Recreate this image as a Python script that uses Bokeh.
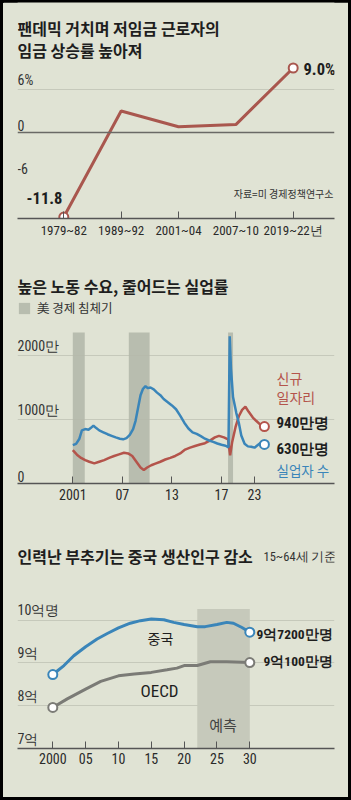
from bokeh.plotting import figure
from bokeh.layouts import column
from bokeh.models import Label, FixedTicker, Span, Legend, LegendItem
from bokeh.core.properties import value
from bokeh.embed import file_html
from bokeh.resources import INLINE

# ---------------- data ----------------
# Panel 1: wage growth of low-wage workers
wage_periods = ["1979~82", "1989~92", "2001~04", "2007~10", "2019~22년"]
wage_growth = [-11.8, 3.0, 0.8, 1.1, 9.0]
wage_y_ticks = [6, 0, -6]
wage_y_labels = ["6%", "0", "-6"]

# Panel 2: job openings vs unemployed (unit: 만)
job_years = [2001.0, 2001.5, 2002.0, 2002.5, 2003.0, 2003.6, 2004.2, 2004.8, 2005.4, 2006.0,
             2006.6, 2007.2, 2007.7, 2008.2, 2008.7, 2009.2, 2009.6, 2010.0, 2010.5, 2011.0,
             2011.6, 2012.2, 2012.8, 2013.4, 2014.0, 2014.6, 2015.2, 2015.8, 2016.4, 2017.0,
             2017.6, 2018.2, 2018.7, 2019.3, 2019.8, 2020.05, 2020.3, 2020.7, 2021.1, 2021.5,
             2021.9, 2022.3, 2022.8, 2023.2, 2023.7, 2024.2]
job_openings = [520, 450, 400, 365, 340, 315, 340, 365, 400, 430,
                455, 480, 470, 430, 340, 250, 210, 250, 285, 310,
                340, 375, 400, 430, 470, 530, 560, 585, 610, 630,
                670, 720, 745, 720, 690, 440, 650, 880, 1050, 1150,
                1200, 1120, 1030, 980, 920, 890]
unemp_years = [2001.0, 2001.4, 2001.8, 2002.1, 2002.5, 2002.9, 2003.2, 2003.5, 2003.8, 2004.2,
               2004.7, 2005.2, 2005.7, 2006.2, 2006.7, 2007.1, 2007.5, 2007.9, 2008.3, 2008.6,
               2008.9, 2009.2, 2009.5, 2009.8, 2010.1, 2010.4, 2010.8, 2011.2, 2011.6, 2012.0,
               2012.5, 2013.0, 2013.5, 2014.0, 2014.5, 2015.0, 2015.5, 2016.0, 2016.5, 2017.0,
               2017.5, 2018.0, 2018.5, 2019.0, 2019.5, 2019.85, 2020.0, 2020.15, 2020.4, 2020.8,
               2021.1, 2021.4, 2021.8, 2022.2, 2022.6, 2023.0, 2023.4, 2023.8, 2024.2]
unemp_counts = [600, 620, 700, 830, 850, 840, 870, 905, 870, 830,
                800, 770, 745, 720, 700, 690, 710, 760, 850, 980,
                1180, 1380, 1480, 1520, 1490, 1500, 1470, 1420, 1380, 1320,
                1270, 1220, 1160, 1060, 950, 860, 800, 775, 740, 700,
                672, 650, 625, 605, 590, 565, 2300, 1800, 1350, 1100,
                950, 750, 620, 580, 575, 560, 600, 640, 610]
recession_start = [2001.0, 2007.78, 2019.8]
recession_end = [2002.45, 2010.3, 2020.4]
recession_top = [2360, 2360, 2360]
labor_ticks = [2001, 2007, 2013, 2019, 2023]
labor_tick_labels = ["2001", "07", "13", "17", "23"]
labor_y_ticks = [2000, 1000, 0]
labor_y_labels = ["2000만", "1000만", "0"]

# Panel 3: working-age population (unit: 억)
china_years = [2000.0, 2001.7, 2003.2, 2005.0, 2006.75, 2008.3, 2010.0, 2011.8, 2013.35, 2015.0,
               2016.9, 2018.4, 2020.0, 2022.0, 2023.2, 2025.0, 2026.5, 2027.5, 2028.8, 2030.0]
china_pop = [8.73, 8.94, 9.17, 9.38, 9.56, 9.69, 9.82, 9.93, 9.99, 10.03,
             10.01, 9.95, 9.90, 9.85, 9.85, 9.90, 9.95, 9.93, 9.83, 9.72]
oecd_years = [2000.0, 2002.2, 2005.0, 2007.3, 2010.0, 2012.4, 2015.0, 2017.4, 2018.9, 2020.0,
              2022.0, 2024.0, 2026.5, 2030.0]
oecd_pop = [7.96, 8.16, 8.39, 8.57, 8.70, 8.74, 8.78, 8.84, 8.88, 8.94,
            8.94, 9.03, 9.03, 9.01]
forecast_start = [2022]
forecast_end = [2030]
forecast_top = [10.26]
pop_ticks = [2000, 2005, 2010, 2015, 2020, 2025, 2030]
pop_tick_labels = ["2000", "05", "10", "15", "20", "25", "30"]
pop_y_ticks = [10, 9, 8, 7]
pop_y_labels = ["10억명", "9억", "8억", "7억"]

# ---------------- style ----------------
BG = "#e0e3d4"
RED1 = "#a9574e"
RED2 = "#b4544b"
BLUE = "#3a85b9"
GREYL = "#7b7b76"
REC = "#b4b8ab"
FORE = "#c6c9bb"
GRID = "#c6c9bb"
AXIS = "#555555"
TXT = "#1e1e1e"
KR = "Noto Sans CJK KR"
NUM = "Roboto Condensed"


def make_fig(height, frame_h, xr, yr, margin):
    p = figure(width=345, height=height, x_range=xr, y_range=yr,
               output_backend="svg", toolbar_location=None, y_axis_location=None,
               min_border_left=14, min_border_right=14, min_border_top=0,
               min_border_bottom=height - frame_h,
               background_fill_color=BG, border_fill_color=BG,
               outline_line_color=None, margin=margin)
    p.xgrid.visible = False
    p.ygrid.grid_line_color = GRID
    p.ygrid.grid_line_width = 1
    ax = p.xaxis[0]
    ax.axis_line_color = AXIS
    ax.axis_line_width = 1.5
    ax.major_tick_in = 7
    ax.major_tick_out = 0
    ax.major_tick_line_color = AXIS
    ax.major_tick_line_width = 1
    ax.minor_tick_line_color = None
    ax.major_label_text_font = NUM
    ax.major_label_text_font_size = "14px"
    ax.major_label_text_color = "#2a2a2a"
    ax.major_label_standoff = 4
    return p


def lab(p, x, y, text, size="16px", bold=False, color=TXT, align="left",
        baseline="middle", font=KR):
    p.add_layout(Label(x=x, y=y, text=text, text_font=font, text_font_size=size,
                       text_font_style="bold" if bold else "normal",
                       text_color=color, text_align=align, text_baseline=baseline))


# ---------------- panel 1 ----------------
S1 = 43 / 6.0
X1_0, X1_SP = 63.3, 57.35
def x1(px): return (px - X1_0) / X1_SP
def y1(py): return -12 + (218 - py) / S1

p1 = make_fig(238, 216, (x1(17), x1(334)), (-12, y1(2)), (2, 3, 0, 3))
p1.ygrid.ticker = FixedTicker(ticks=[6])
p1.add_layout(Span(location=0, dimension="width", line_color="#6a6a66", line_width=1.5))
idx = list(range(len(wage_periods)))
p1.xaxis.ticker = FixedTicker(ticks=idx)
p1.xaxis.major_label_overrides = {i: s for i, s in enumerate(wage_periods)}
p1.xaxis.major_label_text_font_size = "13px"
p1.line(idx, wage_growth, line_color=RED1, line_width=3)
p1.scatter([idx[0], idx[-1]], [wage_growth[0], wage_growth[-1]], size=9,
           fill_color="white", line_color=RED1, line_width=2)
p1.text(x=[x1(17)] * 3, y=wage_y_ticks, text=wage_y_labels, text_font=value(NUM),
        text_font_size="14px", text_color="#333333", text_baseline="bottom", y_offset=-2)
lab(p1, x1(17), y1(27), "팬데믹 거치며 저임금 근로자의", bold=True)
lab(p1, x1(17), y1(49), "임금 상승률 높아져", bold=True)
lab(p1, x1(44), y1(197), "-11.8", size="16.5px", bold=True, align="center", font=NUM)
lab(p1, x1(303), y1(69), "9.0%", size="16.5px", bold=True, font=NUM)
lab(p1, x1(333), y1(193), "자료=미 경제정책연구소", size="10px", color="#333333", align="right")

# ---------------- panel 2 ----------------
S2 = 0.064
X2_0, X2_SP = 72.3, 8.259
def x2(px): return 2001 + (px - X2_0) / X2_SP
def y2(py): return (483 - py) / S2

p2 = make_fig(280, 243, (x2(17), x2(334)), (0, y2(240)), (0, 3, 0, 3))
p2.ygrid.ticker = FixedTicker(ticks=[1000, 2000])
p2.xaxis.ticker = FixedTicker(ticks=labor_ticks)
p2.xaxis.major_label_overrides = {t: s for t, s in zip(labor_ticks, labor_tick_labels)}
p2.xaxis.major_label_standoff = 5
rec = p2.quad(left=recession_start, right=recession_end, bottom=0, top=recession_top,
              fill_color=REC, fill_alpha=0.9, line_color=None)
p2.line(job_years, job_openings, line_color=RED2, line_width=2.5)
p2.line(unemp_years, unemp_counts, line_color=BLUE, line_width=2.5)
p2.scatter([job_years[-1]], [job_openings[-1]], size=9, fill_color="white",
           line_color=RED2, line_width=2)
p2.scatter([unemp_years[-1]], [unemp_counts[-1]], size=9, fill_color="white",
           line_color=BLUE, line_width=2)
p2.text(x=[x2(17)] * 3, y=labor_y_ticks, text=labor_y_labels, text_font=value(NUM),
        text_font_size="14px", text_color="#333333", text_baseline="bottom", y_offset=-2)
leg = Legend(items=[LegendItem(label="美 경제 침체기", renderers=[rec])],
             location=(0, 166), orientation="horizontal",
             glyph_width=14, glyph_height=14, label_height=14, label_standoff=6,
             label_text_font=KR, label_text_font_size="12.5px", label_text_color="#333333",
             padding=0, margin=0, spacing=0, border_line_color=None,
             background_fill_alpha=0)
p2.add_layout(leg)
lab(p2, x2(17), y2(285), "높은 노동 수요, 줄어드는 실업률", bold=True)
lab(p2, x2(276), y2(377), "신규", size="14px", color=RED2)
lab(p2, x2(276), y2(396), "일자리", size="14px", color=RED2)
lab(p2, x2(276), y2(422), "940만명", size="15px", bold=True, font=NUM)
lab(p2, x2(276), y2(448), "630만명", size="15px", bold=True, font=NUM)
lab(p2, x2(276), y2(469), "실업자 수", size="13.5px", color=BLUE)
lab(p2, x2(333), y2(508), "자료=미 상공회의소", size="10px", color="#333333", align="right")

# ---------------- panel 3 ----------------
S3 = 42.7
X3_0, X3_SP = 52.3, 6.567
def x3(px): return 2000 + (px - X3_0) / X3_SP
def y3(py): return 7 + (747.7 - py) / S3

p3 = make_fig(277, 228, (x3(17), x3(334)), (7, y3(520)), (0, 3, 3, 3))
p3.ygrid.ticker = FixedTicker(ticks=[8, 9, 10])
p3.xaxis.ticker = FixedTicker(ticks=pop_ticks)
p3.xaxis.major_label_overrides = {t: s for t, s in zip(pop_ticks, pop_tick_labels)}
p3.xaxis.major_label_standoff = 4
p3.quad(left=forecast_start, right=forecast_end, bottom=7, top=forecast_top,
        fill_color=FORE, line_color=None)
p3.line(china_years, china_pop, line_color=BLUE, line_width=3)
p3.line(oecd_years, oecd_pop, line_color=GREYL, line_width=3)
p3.scatter([china_years[0], china_years[-1]], [china_pop[0], china_pop[-1]], size=9,
           fill_color="white", line_color=BLUE, line_width=2)
p3.scatter([oecd_years[0], oecd_years[-1]], [oecd_pop[0], oecd_pop[-1]], size=9,
           fill_color="white", line_color=GREYL, line_width=2)
p3.text(x=[x3(17)] * 4, y=pop_y_ticks, text=pop_y_labels, text_font=value(NUM),
        text_font_size="14px", text_color="#333333", text_baseline="bottom", y_offset=-2)
lab(p3, x3(17), y3(555), "인력난 부추기는 중국 생산인구 감소", bold=True)
lab(p3, x3(263), y3(563), "15~64세 기준", size="12.5px", color="#333333",
    baseline="bottom", font=NUM)
lab(p3, x3(160), y3(637), "중국", size="14px", align="center")
lab(p3, x3(159), y3(690), "OECD", size="17px", align="center", font=NUM)
lab(p3, x3(256), y3(633), "9억7200만명", size="13.5px", bold=True, font=NUM)
lab(p3, x3(263), y3(660), "9억100만명", size="13.5px", bold=True, font=NUM)
lab(p3, x3(222.5), y3(724), "예측", size="15px", color="#444444", align="center")
lab(p3, x3(333), y3(778), "자료=경제협력개발기구(OECD)", size="10px", color="#333333",
    align="right")

layout = column(p1, p2, p3, spacing=0,
                styles={"background-color": BG, "box-shadow": "inset 0 0 0 3px #000000"})
open("out.html", "w").write(file_html(layout, INLINE))
